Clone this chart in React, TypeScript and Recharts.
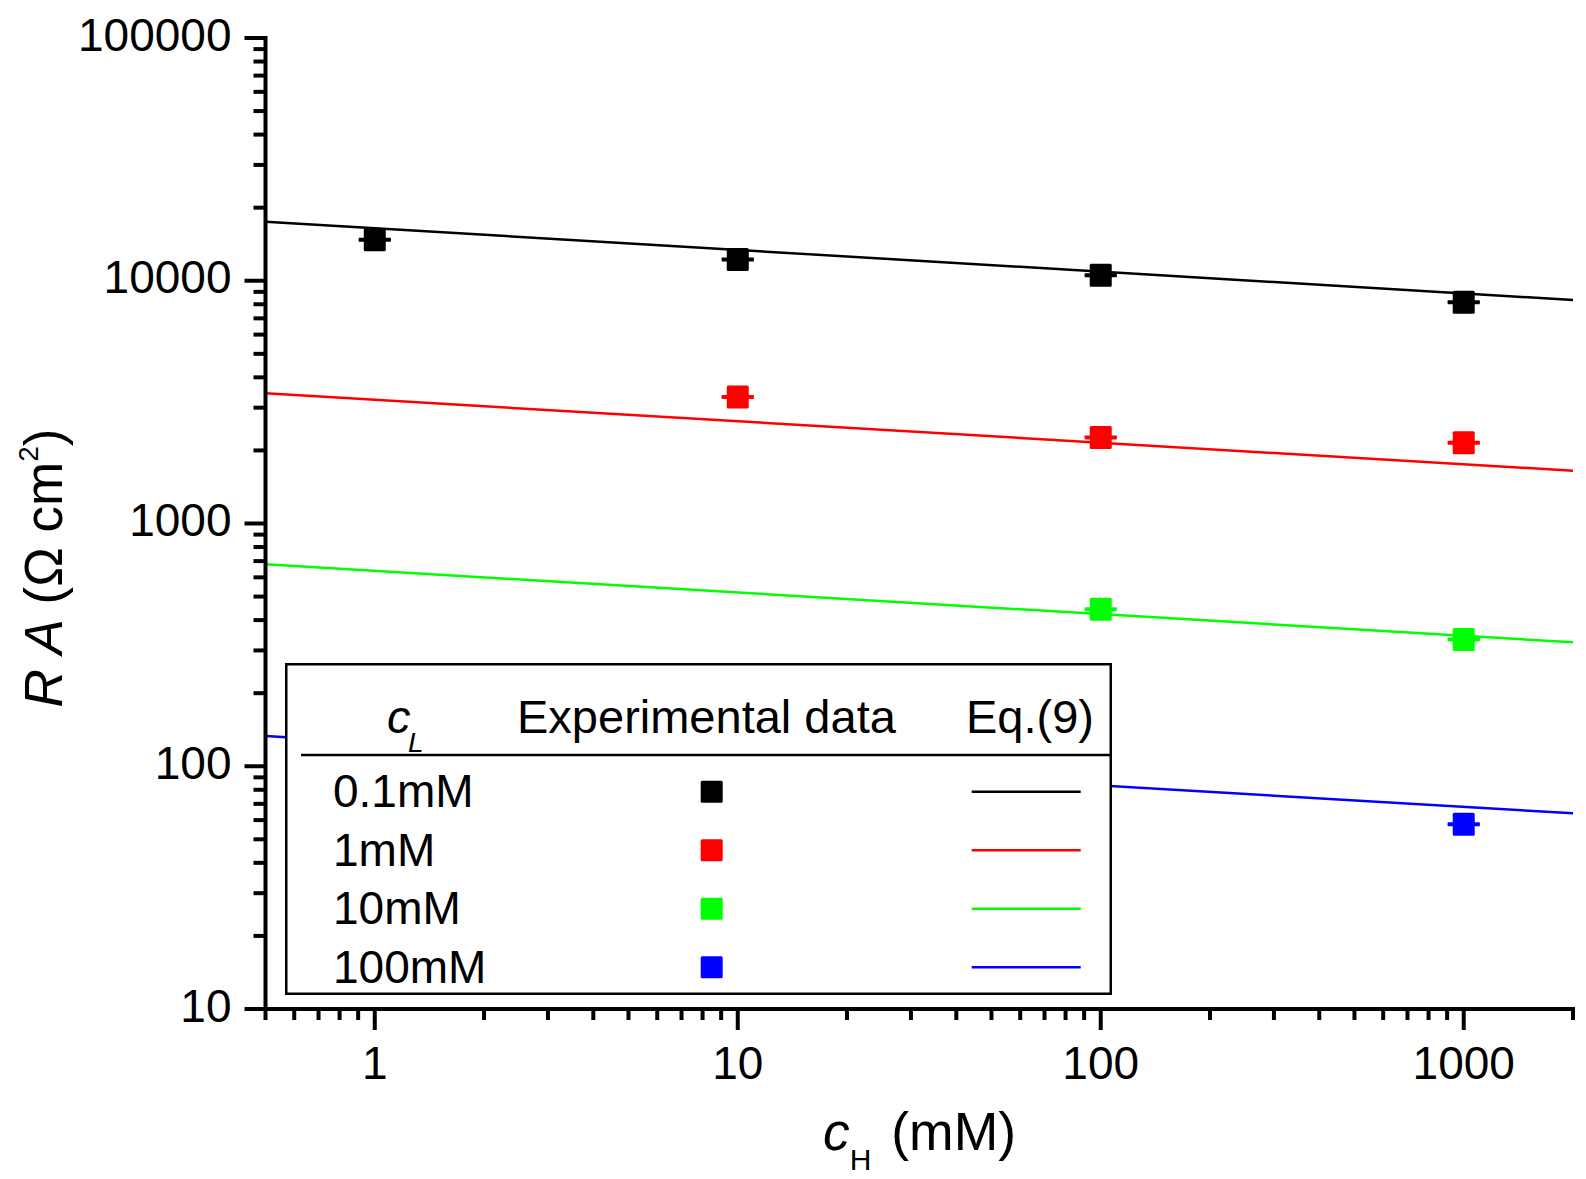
import React from 'react';
import { ComposedChart, XAxis, YAxis, Line, Scatter, ErrorBar, Legend, Label } from 'recharts';

const FONT = '"Liberation Sans", Arial, Helvetica, sans-serif';

// series (c_L)
const seriesNames = ['0.1mM', '1mM', '10mM', '100mM'];
const seriesColors = ['#000000', '#ff0000', '#00ff00', '#0000ff'];

// experimental data (x = c_H in mM, y = R A in Ohm cm^2)
const exp01X = [1, 10, 100, 1000];
const exp01Y = [14760, 12235, 10527, 8150];
const exp01Err = [70, 60, 50, 40];
const exp1X = [10, 100, 1000];
const exp1Y = [3320, 2261, 2150];
const exp1Err = [16, 11, 10];
const exp10X = [100, 1000];
const exp10Y = [443, 333];
const exp10Err = [2, 1.6];
const exp100X = [1000];
const exp100Y = [57.7];
const exp100Err = [0.3];

// Eq.(9) curves
const fitX = [0.5, 2000];
const fit01Y = [17515, 8332];
const fit1Y = [3438, 1650];
const fit10Y = [679, 324];
const fit100Y = [133.2, 64.0];

// ticks
const xMajorTicks = [1, 10, 100, 1000];
const xMinorTicks = [0.5, 0.6, 0.7, 0.8, 0.9, 2, 3, 4, 5, 6, 7, 8, 9, 20, 30, 40, 50, 60, 70, 80, 90,
  200, 300, 400, 500, 600, 700, 800, 900, 2000];
const yMajorTicks = [10, 100, 1000, 10000, 100000];
const yMinorTicks = [20, 30, 40, 50, 60, 70, 80, 90, 200, 300, 400, 500, 600, 700, 800, 900,
  2000, 3000, 4000, 5000, 6000, 7000, 8000, 9000, 20000, 30000, 40000, 50000, 60000, 70000, 80000, 90000];

const toPoints = (xs: number[], ys: number[], errs?: number[]) =>
  xs.map((x, i) => ({ x, y: ys[i], err: errs ? errs[i] : 0 }));

const expSeries = [
  toPoints(exp01X, exp01Y, exp01Err),
  toPoints(exp1X, exp1Y, exp1Err),
  toPoints(exp10X, exp10Y, exp10Err),
  toPoints(exp100X, exp100Y, exp100Err),
];
const fitSeries = [
  toPoints(fitX, fit01Y),
  toPoints(fitX, fit1Y),
  toPoints(fitX, fit10Y),
  toPoints(fitX, fit100Y),
];

const XTick = (props: any) => {
  const { x, y, payload } = props;
  const v = payload.value;
  const major = xMajorTicks.includes(v);
  return (
    <g>
      <line x1={x} x2={x} y1={y} y2={y + (major ? 21 : 11)} stroke="#000" strokeWidth={4} />
      {major && (
        <text x={x} y={y + 70} textAnchor="middle" fontSize={46} fontFamily={FONT} fill="#000">
          {v}
        </text>
      )}
    </g>
  );
};

const YTick = (props: any) => {
  const { x, y, payload } = props;
  const v = payload.value;
  const major = yMajorTicks.includes(v);
  return (
    <g>
      <line x1={x - (major ? 21 : 12)} x2={x} y1={y} y2={y} stroke="#000" strokeWidth={4} />
      {major && (
        <text x={x - 34} y={y + 12.5} textAnchor="end" fontSize={46} fontFamily={FONT} fill="#000">
          {v}
        </text>
      )}
    </g>
  );
};

const YTitle = () => {
  const bx = 62;
  const cy = 568;
  return (
    <text x={bx} y={cy} transform={`rotate(-90 ${bx} ${cy})`} textAnchor="middle" fontSize={53}
      fontFamily={FONT} fill="#000">
      <tspan fontStyle="italic">R</tspan>
      {' '}
      <tspan fontStyle="italic">A</tspan>
      {' (\u03A9 cm'}
      <tspan fontSize={28} dy={-24}>2</tspan>
      <tspan dy={24}>)</tspan>
    </text>
  );
};

const XTitle = () => (
  <text x={823} y={1150} fontSize={53.5} fontFamily={FONT} fill="#000">
    <tspan fontStyle="italic">c</tspan>
    <tspan fontSize={30} dy={20}>H</tspan>
    <tspan dy={-20} dx={5}>{' (mM)'}</tspan>
  </text>
);

const LegendTable = () => (
  <svg width={827} height={332} style={{ display: 'block' }}>
    <rect x={1.25} y={1.25} width={824.5} height={329.5} fill="#fff" stroke="#000" strokeWidth={2.5} />
    <line x1={16} x2={826} y1={92} y2={92} stroke="#000" strokeWidth={2.5} />
    <text x={102} y={70} fontSize={47} fontFamily={FONT} fontStyle="italic" fill="#000">c</text>
    <text x={123} y={89} fontSize={28} fontFamily={FONT} fontStyle="italic" fill="#000">L</text>
    <text x={232} y={70} fontSize={47} fontFamily={FONT} fill="#000">Experimental data</text>
    <text x={681} y={70} fontSize={47} fontFamily={FONT} fill="#000">Eq.(9)</text>
    {seriesNames.map((name, i) => {
      const cy = 128.7 + i * 58.5;
      return (
        <g key={name}>
          <text x={48} y={cy + 15.5} fontSize={46} fontFamily={FONT} fill="#000">{name}</text>
          <rect x={426.7 - 11} y={cy - 11} width={22} height={22} rx={1.5} fill={seriesColors[i]} />
          <line x1={686.7} x2={795.7} y1={cy} y2={cy} stroke={seriesColors[i]} strokeWidth={2.5} />
        </g>
      );
    })}
  </svg>
);

const SquareMarker = (props: any) => {
  const { cx, cy, fill } = props;
  if (cx == null || cy == null) return null;
  return <rect x={cx - 11} y={cy - 11.5} width={22} height={23} rx={1.5} fill={fill} />;
};

export default function App() {
  return (
    <div style={{ position: 'absolute', left: 0, top: 0, width: 1586, height: 1179, background: '#fff' }}>
      <ComposedChart width={1586} height={1179} margin={{ top: 38, right: 13, bottom: 0, left: 0 }}>
        <XAxis
          xAxisId="main"
          dataKey="x"
          type="number"
          scale="log"
          domain={[0.5, 2000]}
          allowDataOverflow
          ticks={[...xMinorTicks, ...xMajorTicks]}
          interval={0}
          tickSize={0}
          tickMargin={0}
          tickLine={false}
          tick={<XTick />}
          height={170}
          axisLine={{ stroke: '#000', strokeWidth: 4, strokeLinecap: 'square' }}
        >
          <Label content={<XTitle />} />
        </XAxis>
        <XAxis
          xAxisId="top"
          orientation="top"
          type="number"
          scale="log"
          domain={[0.5, 2000]}
          allowDataOverflow
          height={0}
          tick={false}
          tickLine={false}
          axisLine={{ stroke: '#000', strokeWidth: 4, strokeLinecap: 'square' }}
        />
        <YAxis
          yAxisId="main"
          dataKey="y"
          type="number"
          scale="log"
          domain={[10, 100000]}
          allowDataOverflow
          ticks={[...yMinorTicks, ...yMajorTicks]}
          interval={0}
          tickSize={0}
          tickMargin={0}
          tickLine={false}
          tick={<YTick />}
          width={265.5}
          axisLine={{ stroke: '#000', strokeWidth: 4, strokeLinecap: 'square' }}
        >
          <Label content={<YTitle />} />
        </YAxis>
        <YAxis
          yAxisId="right"
          orientation="right"
          type="number"
          scale="log"
          domain={[10, 100000]}
          allowDataOverflow
          width={0}
          tick={false}
          tickLine={false}
          axisLine={{ stroke: '#000', strokeWidth: 4, strokeLinecap: 'square' }}
        />
        {fitSeries.map((d, i) => (
          <Line
            key={'fit' + i}
            xAxisId="main"
            yAxisId="main"
            data={d}
            dataKey="y"
            name={seriesNames[i] + ' Eq.(9)'}
            type="linear"
            stroke={seriesColors[i]}
            strokeWidth={2.5}
            dot={false}
            activeDot={false}
            isAnimationActive={false}
          />
        ))}
        {expSeries.map((d, i) => (
          <Scatter
            key={'exp' + i}
            xAxisId="main"
            yAxisId="main"
            data={d}
            dataKey="y"
            name={seriesNames[i]}
            fill={seriesColors[i]}
            shape={<SquareMarker />}
            isAnimationActive={false}
          >
            <ErrorBar dataKey="err" direction="y" width={16} strokeWidth={3} stroke={seriesColors[i]} />
          </Scatter>
        ))}
        <Legend
          layout="horizontal"
          verticalAlign="middle"
          align="center"
          content={<LegendTable />}
          wrapperStyle={{ left: 285, top: 663, width: 827, height: 332, margin: 0, padding: 0 }}
        />
      </ComposedChart>
    </div>
  );
}
